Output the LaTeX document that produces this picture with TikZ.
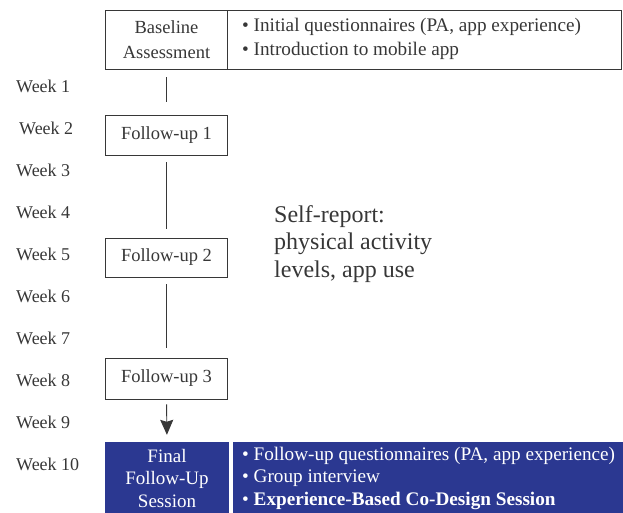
\documentclass[tikz,border=0pt]{standalone}
\usepackage{fontspec}
\setmainfont{Liberation Serif}
\usetikzlibrary{arrows.meta}
\definecolor{ink}{RGB}{55,55,55}
\definecolor{navy}{RGB}{43,56,145}
\tikzset{
  stage/.style={draw=ink, line width=0.9pt, minimum width=122pt, inner sep=0pt,
    font=\fontsize{18.5}{25}\selectfont, text=ink, align=center},
  weeklbl/.style={anchor=west, inner sep=0pt, font=\fontsize{18}{22}\selectfont, text=ink},
  link/.style={draw=ink, line width=0.9pt},
  bullets/.style={anchor=west, inner sep=0pt, align=left, text=ink},
}
\begin{document}
\begin{tikzpicture}[x=1pt, y=-1pt]
\useasboundingbox (0,0) rectangle (623,512);

% baseline assessment row
\node[stage, minimum height=59pt] (base) at (166.5,39.5) {Baseline\\Assessment};
\node[draw=ink, line width=0.9pt, minimum width=394pt, minimum height=59pt, inner sep=0pt] (baseinfo) at (424.5,39.5) {};
\node[bullets, font=\fontsize{19.2}{24}\selectfont] (baselist) at (242,39) {• Initial questionnaires (PA, app experience)\\• Introduction to mobile app};

% follow-up visits
\node[stage, minimum height=40pt] (fu1) at (166.5,135) {Follow-up 1};
\node[stage, minimum height=39pt] (fu2) at (166.5,257.5) {Follow-up 2};
\node[stage, minimum height=41pt] (fu3) at (166.5,378.5) {Follow-up 3};

% final session
\node[fill=navy, minimum width=124pt, minimum height=80pt, inner sep=0pt] (final) at (167,482) {};
\node[fill=navy, minimum width=392pt, minimum height=80pt, inner sep=0pt] (finalinfo) at (429,482) {};
\node[text=white, align=center, inner sep=0pt, font=\fontsize{19}{22.5}\selectfont] (finaltxt) at (167,478) {Final\\Follow-Up\\Session};
\node[bullets, text=white, font=\fontsize{19.2}{22.5}\selectfont] (finallist) at (242,478) {• Follow-up questionnaires (PA, app experience)\\• Group interview\\• \textbf{Experience-Based Co-Design Session}};

% connectors between visits
\draw[link, shorten <=8pt, shorten >=13pt] (base.south) -- (fu1.north);
\draw[link, shorten <=7pt, shorten >=9pt] (fu1.south) -- (fu2.north);
\draw[link, shorten <=7pt, shorten >=10pt] (fu2.south) -- (fu3.north);
\draw[link, shorten <=5pt, shorten >=7pt, -{Stealth[length=15pt, width=13pt, inset=2pt]}] (fu3.south) -- (final.north);

% self-report note
\node[anchor=west, inner sep=0pt, align=left, text=ink, font=\fontsize{24}{27.5}\selectfont] (selfreport) at (274,244) {Self-report:\\physical activity\\levels, app use};

% week labels
\node[weeklbl] (w1) at (16,86) {Week 1};
\node[weeklbl] (w2) at (19,128) {Week 2};
\node[weeklbl] (w3) at (16,170) {Week 3};
\node[weeklbl] (w4) at (16,212) {Week 4};
\node[weeklbl] (w5) at (16,254) {Week 5};
\node[weeklbl] (w6) at (16,296) {Week 6};
\node[weeklbl] (w7) at (16,338) {Week 7};
\node[weeklbl] (w8) at (16,380) {Week 8};
\node[weeklbl] (w9) at (16,422) {Week 9};
\node[weeklbl] (w10) at (16,464) {Week 10};
\end{tikzpicture}
\end{document}
